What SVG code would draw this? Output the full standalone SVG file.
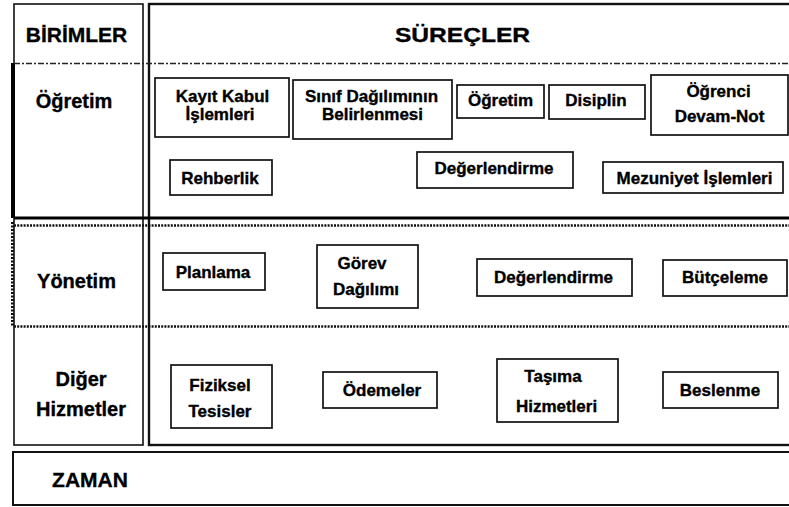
<svg xmlns="http://www.w3.org/2000/svg" width="789" height="507" viewBox="0 0 789 507">
  <style>
    text { font-family: "Liberation Sans", Arial, sans-serif; font-weight: bold; fill: #000; stroke: #000; stroke-width: 0.35; text-anchor: middle; }
    .hdr { font-size: 21px; }
    .row { font-size: 20px; }
    .proc { font-size: 17px; }
    .box { fill: #fff; stroke: #111; stroke-width: 1.7; }
    .frame { fill: none; stroke: #111; }
    .dashdot { stroke: #222; stroke-width: 1.3; stroke-dasharray: 6 2 2 2; fill: none; }
    .dots { stroke: #111; stroke-width: 2.4; stroke-dasharray: 2 1.2; fill: none; }
  </style>

  <rect width="789" height="507" fill="#fff"/>

  <!-- table frame -->
  <g id="frame">
    <rect class="frame" x="14" y="4" width="129" height="441" stroke-width="1.6"/>
    <rect class="frame" x="149" y="4" width="646" height="441" stroke-width="2.4"/>
    <line x1="13" y1="63" x2="13" y2="218" stroke="#000" stroke-width="4"/>
    <line x1="12.5" y1="222" x2="12.5" y2="326" stroke="#111" stroke-width="3" stroke-dasharray="2 1.5"/>
    <line class="dashdot" x1="14" y1="63.5" x2="789" y2="63.5"/>
    <line x1="14" y1="218" x2="789" y2="218" stroke="#000" stroke-width="3"/>
    <line class="dots" x1="14" y1="225.5" x2="789" y2="225.5"/>
    <line class="dots" x1="14" y1="326.5" x2="789" y2="326.5"/>
    <rect class="frame" x="13" y="452" width="782" height="53" stroke-width="2"/>
  </g>

  <!-- headers -->
  <g id="hdr-birimler"><text class="hdr" x="76.5" y="42">BİRİMLER</text></g>
  <g id="hdr-surecler"><text class="hdr" x="462.5" y="42" textLength="135" lengthAdjust="spacingAndGlyphs">SÜREÇLER</text></g>
  <g id="hdr-zaman"><text class="hdr" x="90" y="487">ZAMAN</text></g>

  <!-- unit labels -->
  <g id="unit-ogretim"><text class="row" x="74" y="108">Öğretim</text></g>
  <g id="unit-yonetim"><text class="row" x="76.5" y="288">Yönetim</text></g>
  <g id="unit-diger"><text class="row" x="81" y="386">Diğer</text><text class="row" x="81" y="416">Hizmetler</text></g>

  <!-- Öğretim processes -->
  <g id="p-kayit">
    <rect class="box" x="155" y="78" width="134" height="59"/>
    <text class="proc" x="222.5" y="102">Kayıt Kabul</text>
    <text class="proc" x="220" y="120">İşlemleri</text>
  </g>
  <g id="p-sinif">
    <rect class="box" x="293" y="80" width="159" height="59"/>
    <text class="proc" x="371.5" y="102">Sınıf Dağılımının</text>
    <text class="proc" x="372.5" y="120">Belirlenmesi</text>
  </g>
  <g id="p-ogretim">
    <rect class="box" x="457" y="85" width="87" height="33"/>
    <text class="proc" x="500.5" y="106">Öğretim</text>
  </g>
  <g id="p-disiplin">
    <rect class="box" x="549" y="85" width="96" height="34"/>
    <text class="proc" x="596" y="106">Disiplin</text>
  </g>
  <g id="p-devam">
    <rect class="box" x="651" y="75" width="137" height="60"/>
    <text class="proc" x="718.5" y="97">Öğrenci</text>
    <text class="proc" x="719.5" y="122">Devam-Not</text>
  </g>
  <g id="p-rehberlik">
    <rect class="box" x="170" y="160" width="102" height="35"/>
    <text class="proc" x="220" y="184">Rehberlik</text>
  </g>
  <g id="p-degerlendirme1">
    <rect class="box" x="417" y="152" width="156" height="36"/>
    <text class="proc" x="494" y="174">Değerlendirme</text>
  </g>
  <g id="p-mezuniyet">
    <rect class="box" x="603" y="162" width="180" height="31"/>
    <text class="proc" x="694.5" y="184">Mezuniyet İşlemleri</text>
  </g>

  <!-- Yönetim processes -->
  <g id="p-planlama">
    <rect class="box" x="163" y="253" width="102" height="37"/>
    <text class="proc" x="213" y="278">Planlama</text>
  </g>
  <g id="p-gorev">
    <rect class="box" x="317" y="245" width="101" height="63"/>
    <text class="proc" x="362" y="269">Görev</text>
    <text class="proc" x="366" y="295">Dağılımı</text>
  </g>
  <g id="p-degerlendirme2">
    <rect class="box" x="477" y="259" width="155" height="37"/>
    <text class="proc" x="553.5" y="283">Değerlendirme</text>
  </g>
  <g id="p-butceleme">
    <rect class="box" x="663" y="260" width="124" height="36"/>
    <text class="proc" x="725" y="283">Bütçeleme</text>
  </g>

  <!-- Diğer Hizmetler processes -->
  <g id="p-fiziksel">
    <rect class="box" x="171" y="365" width="101" height="63"/>
    <text class="proc" x="220" y="391">Fiziksel</text>
    <text class="proc" x="220" y="417">Tesisler</text>
  </g>
  <g id="p-odemeler">
    <rect class="box" x="323" y="372" width="114" height="36"/>
    <text class="proc" x="382" y="396">Ödemeler</text>
  </g>
  <g id="p-tasima">
    <rect class="box" x="497" y="359" width="121" height="63"/>
    <text class="proc" x="553" y="382">Taşıma</text>
    <text class="proc" x="556.5" y="412">Hizmetleri</text>
  </g>
  <g id="p-beslenme">
    <rect class="box" x="663" y="372" width="115" height="36"/>
    <text class="proc" x="720" y="396">Beslenme</text>
  </g>
</svg>
